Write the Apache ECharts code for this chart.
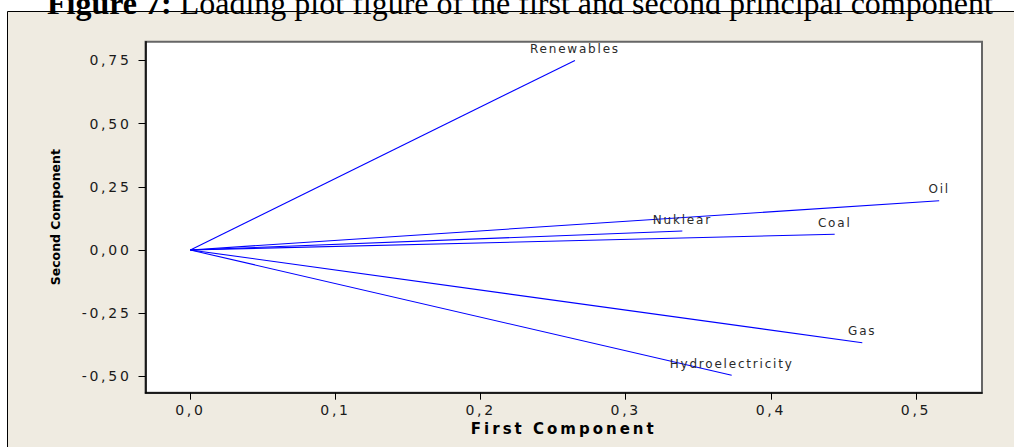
<!DOCTYPE html>
<html>
<head>
<meta charset="utf-8">
<script src="https://cdn.jsdelivr.net/npm/echarts@6/dist/echarts.min.js"></script>
<style>
  html, body { margin: 0; padding: 0; background: #fff; }
  #chart { width: 1014px; height: 447px; }
  /* wide letter spacing for tick labels, loading labels and the x-axis name */
  #chart text[style*="14px"] { letter-spacing: 2.7px; }
  #chart text[style*="12px"] { letter-spacing: 1.8px; }
  #chart text[style*="15px"] { letter-spacing: 3px; }
</style>
</head>
<body>
<div id="chart"></div>
<script>
// Loadings of each energy source on the first two principal components
const variables = ['Renewables', 'Oil', 'Nuklear', 'Coal', 'Gas', 'Hydroelectricity'];
const firstComponent = [0.265, 0.516, 0.339, 0.444, 0.463, 0.373];
const secondComponent = [0.750, 0.195, 0.075, 0.062, -0.367, -0.496];

// Axis tick positions
const xTicks = [0, 0.1, 0.2, 0.3, 0.4, 0.5];
const yTicks = [-0.5, -0.25, 0, 0.25, 0.5, 0.75];

const BLUE = '#0000ff';
const INK = '#1a1a1a';
const SANS = 'DejaVu Sans';

const fmtX = v => v.toFixed(1).replace('.', ',');
const fmtY = v => v.toFixed(2).replace('.', ',');

// One line per variable, from the origin to its loading, labelled at the tip
const series = variables.map((name, i) => ({
  type: 'line',
  name: name,
  symbol: 'circle',
  symbolSize: 1,
  showSymbol: true,
  silent: true,
  itemStyle: { color: 'rgba(0,0,255,0)' },
  lineStyle: { color: BLUE, width: 1.1 },
  data: [
    [0, 0],
    {
      value: [firstComponent[i], secondComponent[i]],
      label: {
        show: true,
        position: 'top',
        distance: 5,
        formatter: name,
        color: '#2a2a2a',
        fontFamily: SANS,
        fontSize: 12
      }
    }
  ]
}));

const chart = echarts.init(document.getElementById('chart'), null, { renderer: 'svg' });

chart.setOption({
  animation: false,
  backgroundColor: '#ffffff',
  title: {
    left: 42,
    top: -18,
    text: '{b|Figure 7:} Loading plot figure of the first and second principal component',
    textStyle: {
      fontFamily: 'Liberation Serif',
      fontSize: 32,
      fontWeight: 'normal',
      color: '#000',
      rich: {
        b: { fontFamily: 'Liberation Serif', fontSize: 32, fontWeight: 'bold', color: '#000' }
      }
    }
  },
  graphic: [
    {
      type: 'rect',
      z: -10,
      silent: true,
      shape: { x: 7.5, y: 11.5, width: 1020, height: 450 },
      style: { fill: '#efebe1', stroke: '#000', lineWidth: 1 }
    }
  ],
  grid: {
    left: 145.5,
    right: 32,
    top: 41.7,
    bottom: 54.3,
    show: true,
    backgroundColor: '#ffffff',
    borderColor: '#666666',
    borderWidth: 2
  },
  xAxis: {
    type: 'value',
    min: -0.0309,
    max: 0.5455,
    name: 'First Component',
    nameLocation: 'middle',
    nameGap: 29,
    nameTextStyle: { fontFamily: SANS, fontSize: 15, fontWeight: 'bold', color: '#000' },
    axisLine: { show: true, onZero: false, lineStyle: { color: '#000', width: 1.5 } },
    axisTick: { show: true, inside: false, length: 7, customValues: xTicks, lineStyle: { color: '#000', width: 1 } },
    axisLabel: { customValues: xTicks, formatter: fmtX, margin: 10, fontFamily: SANS, fontSize: 14, color: INK },
    splitLine: { show: false }
  },
  yAxis: {
    type: 'value',
    min: -0.5647,
    max: 0.824,
    name: 'Second Component',
    nameLocation: 'middle',
    nameRotate: 90,
    nameGap: 84,
    nameTextStyle: { fontFamily: SANS, fontSize: 12.5, fontWeight: 'bold', color: '#000' },
    axisLine: { show: true, onZero: false, lineStyle: { color: '#000', width: 1.5 } },
    axisTick: { show: true, inside: false, length: 7, customValues: yTicks, lineStyle: { color: '#000', width: 1 } },
    axisLabel: { customValues: yTicks, formatter: fmtY, margin: 14, fontFamily: SANS, fontSize: 14, color: INK },
    splitLine: { show: false }
  },
  series: series
});
</script>
</body>
</html>
